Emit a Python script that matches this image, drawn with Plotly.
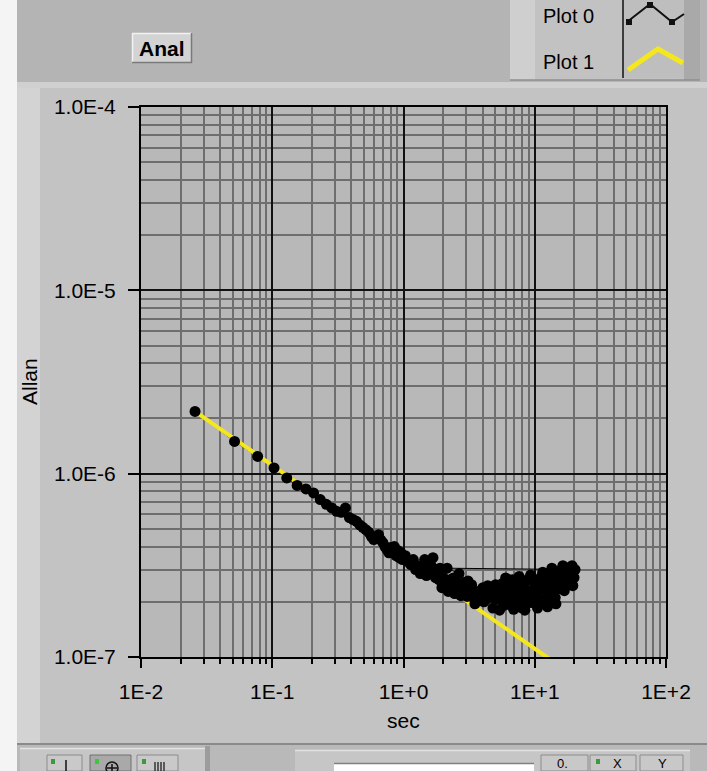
import plotly.graph_objects as go

# ---------------- data ----------------
tau = [0.0258, 0.0516, 0.0774, 0.1032, 0.129, 0.1548, 0.1806, 0.2064, 0.2322, 0.258,
       0.2838, 0.3096, 0.3354, 0.3612, 0.387, 0.4128, 0.4386, 0.4644, 0.4902, 0.516,
       0.5418, 0.5676, 0.5934, 0.6192, 0.645, 0.6708, 0.6966, 0.7224, 0.7482, 0.774,
       0.7998, 0.8256, 0.8514, 0.8772, 0.903, 0.9288, 0.9546, 0.9804, 1.032, 1.084,
       1.135, 1.187, 1.238, 1.29, 1.342, 1.419, 1.496, 1.574, 1.625, 1.677, 1.754, 1.806,
       1.858, 1.961, 2.012, 2.064, 2.193, 2.270, 2.322, 2.451, 2.503, 2.58, 2.735, 2.812,
       2.890, 3.044, 3.225, 3.302, 3.406, 3.612, 3.818, 3.922, 4.025, 4.257, 4.386, 4.515,
       4.644, 4.773, 5.031, 5.16, 5.289, 5.547, 5.676, 5.805, 5.986, 6.140, 6.321, 6.45,
       6.605, 6.760, 6.914, 7.095, 7.276, 7.482, 7.688, 7.869, 8.050, 8.256, 8.462, 8.643,
       8.824, 9.03, 9.236, 9.494, 9.701, 9.933, 10.11, 10.32, 10.71, 10.89, 11.09, 11.35,
       11.61, 11.87, 12.13, 12.38, 12.64, 12.9, 13.16, 13.42, 13.67, 14.06, 14.32, 14.65,
       14.96, 15.27, 15.48, 15.74, 16.0, 16.38, 16.64, 16.98, 17.29, 17.67, 18.06, 18.45,
       18.83, 19.22, 19.61, 19.92, 20.28,
       2.15, 2.65, 3.1, 3.5, 4.1, 4.8, 5.4, 6.0, 6.9, 7.6, 8.4, 9.3, 10.5, 11.5, 12.5,
       13.5, 14.5, 15.6, 16.8, 18.2, 19.5, 1.45, 1.9, 2.4, 2.95]
allan = [2.185e-6, 1.50e-6, 1.242e-6, 1.074e-6, 9.48e-7, 8.63e-7, 8.25e-7, 7.85e-7, 7.22e-7, 6.80e-7,
         6.50e-7, 6.23e-7, 6.15e-7, 6.50e-7, 5.76e-7, 5.62e-7, 5.50e-7, 5.25e-7, 5.10e-7, 4.95e-7,
         4.80e-7, 4.55e-7, 4.37e-7, 4.50e-7, 4.65e-7, 4.35e-7, 4.21e-7, 4.00e-7, 3.85e-7, 3.70e-7,
         3.95e-7, 3.71e-7, 4.00e-7, 3.57e-7, 3.81e-7, 3.48e-7, 3.71e-7, 3.40e-7, 3.57e-7, 3.31e-7,
         3.19e-7, 3.40e-7, 3.00e-7, 3.15e-7, 2.85e-7, 3.07e-7, 2.78e-7, 3.00e-7, 3.15e-7, 3.48e-7, 2.71e-7, 2.92e-7,
         2.64e-7, 2.39e-7, 2.71e-7, 2.55e-7, 2.28e-7, 2.64e-7, 2.48e-7, 2.22e-7, 2.58e-7, 2.39e-7, 2.16e-7, 2.52e-7,
         2.33e-7, 2.14e-7, 2.33e-7, 2.48e-7, 2.11e-7, 2.28e-7, 2.14e-7, 2.06e-7, 2.39e-7, 2.06e-7, 2.45e-7, 2.25e-7,
         2.33e-7, 2.11e-7, 2.48e-7, 2.28e-7, 2.06e-7, 2.28e-7, 2.52e-7, 1.91e-7, 2.11e-7, 2.39e-7, 2.64e-7, 2.11e-7,
         1.91e-7, 2.64e-7, 2.33e-7, 1.96e-7, 2.58e-7, 2.22e-7, 2.06e-7, 1.86e-7, 2.33e-7, 2.45e-7, 1.91e-7, 2.06e-7,
         2.64e-7, 2.28e-7, 2.11e-7, 1.98e-7, 2.33e-7, 2.55e-7, 1.96e-7, 2.16e-7, 2.33e-7, 2.01e-7, 2.71e-7, 2.39e-7,
         2.06e-7, 2.78e-7, 2.48e-7, 2.01e-7, 2.22e-7, 2.52e-7, 2.85e-7, 2.16e-7, 2.39e-7, 2.64e-7, 2.11e-7, 2.33e-7,
         2.71e-7, 2.45e-7, 2.64e-7, 2.39e-7, 3.00e-7, 3.15e-7, 2.71e-7, 2.45e-7, 3.07e-7, 2.78e-7, 2.82e-7, 2.58e-7,
         3.07e-7, 3.15e-7, 2.92e-7, 2.71e-7, 3.00e-7,
         3.05e-7, 2.85e-7, 2.60e-7, 1.95e-7, 2.00e-7, 1.85e-7, 1.80e-7, 2.70e-7, 1.82e-7, 2.75e-7, 1.80e-7, 2.80e-7,
         1.85e-7, 2.90e-7, 1.88e-7, 3.05e-7, 1.95e-7, 2.95e-7, 2.30e-7, 2.95e-7, 2.45e-7, 3.40e-7, 3.05e-7, 2.70e-7, 2.55e-7]
fit_tau = [0.0258, 20.0]
fit_allan = [2.185e-6, 7.85e-8]

x_tickvals = [0.01, 0.1, 1, 10, 100]
x_ticktext = ["1E-2", "1E-1", "1E+0", "1E+1", "1E+2"]
y_tickvals = [1e-7, 1e-6, 1e-5, 1e-4]
y_ticktext = ["1.0E-7", "1.0E-6", "1.0E-5", "1.0E-4"]
minor_mult = [2, 3, 4, 5, 6, 7, 8, 9]
x_decades = [0.01, 0.1, 1, 10]
y_decades = [1e-7, 1e-6, 1e-5]

legend_names = ["Plot 0", "Plot 1"]

# ---------------- layout helpers ----------------
W, H = 707, 771
FONT = "Liberation Sans"


def px(x):
    return x / W


def py(y):
    return 1 - y / H


shapes = []


def rect(x0, y0, x1, y1, fill, line=None, lw=0):
    shapes.append(dict(type="rect", xref="paper", yref="paper", layer="below",
                       x0=px(x0), x1=px(x1), y0=py(y1), y1=py(y0),
                       fillcolor=fill, line=dict(width=lw, color=line or fill)))


def seg(x0, y0, x1, y1, color, w=1, layer="below"):
    shapes.append(dict(type="line", xref="paper", yref="paper", layer=layer,
                       x0=px(x0), x1=px(x1), y0=py(y0), y1=py(y1),
                       line=dict(color=color, width=w)))


def path(pts, color, w, layer="above"):
    d = "M " + " L ".join(f"{px(a):.5f},{py(b):.5f}" for a, b in pts)
    shapes.append(dict(type="path", xref="paper", yref="paper", layer=layer,
                       path=d, line=dict(color=color, width=w)))


def label(text, x, y, size=21, angle=0, bold=False, color="#000000"):
    return dict(text=f"<b>{text}</b>" if bold else text, x=px(x), y=py(y),
                xref="paper", yref="paper", xanchor="center", yanchor="middle",
                textangle=angle, showarrow=False,
                font=dict(family=FONT, size=size, color=color))


# plot area in pixels
PL, PR, PT, PB = 141, 666, 107, 657

# background panels
rect(0, 0, 17, H, "#f4f4f4")
rect(17, 0, W, 82, "#b4b4b4")
rect(17, 82, W, 744, "#c3c3c3")
rect(17, 82, 40, 744, "#d3d3d3")
rect(17, 82, W, 88, "#d0d0d0")
seg(17, 744, W, 744, "#8a8a8a", 2)
# bottom toolbar
rect(17, 745, W, H, "#b9b9b9")
rect(20, 748, 206, H, "#c6c6c6")
seg(20, 748.5, 206, 748.5, "#e4e4e4", 1.5)
rect(205, 746, 210, H, "#9c9c9c")
rect(47, 755, 82, H, "#c9c9c9", "#8c8c8c", 1)
rect(90, 755, 131, H, "#a9a9a9", "#707070", 1)
rect(137, 755, 178, H, "#c9c9c9", "#8c8c8c", 1)
rect(51, 759, 55, 764, "#3c9a3c")
rect(95, 759, 99, 764, "#3cc83c")
rect(142, 759, 146, 764, "#3c9a3c")
rect(295, 750, 690, H, "#c6c6c6")
seg(295, 750.5, 690, 750.5, "#e2e2e2", 1.5)
rect(334, 763, 534, H, "#ffffff")
seg(334, 763.5, 534, 763.5, "#808080", 1.5)
rect(541, 755, 588, H, "#c8c8c8", "#8c8c8c", 1)
rect(590, 755, 636, H, "#c8c8c8", "#8c8c8c", 1)
rect(640, 755, 683, H, "#c8c8c8", "#8c8c8c", 1)
rect(596, 759, 600, 764, "#3c9a3c")

# "Anal" button
rect(132, 33, 192, 63, "#d3d3d3")
seg(132, 33.5, 192, 33.5, "#f2f2f2", 1.5)
seg(132.5, 33, 132.5, 63, "#f2f2f2", 1.5)
seg(132, 62.5, 192, 62.5, "#7a7a7a", 1.5)
seg(191.5, 33, 191.5, 63, "#7a7a7a", 1.5)

# legend box
rect(510, 0, 700, 80, "#c2c2c2")
rect(510, 0, 535, 80, "#cfcfcf")
rect(623, 0, 684, 78, "#bebebe")
rect(684, 0, 700, 80, "#a9a9a9")
seg(510, 80, 700, 80, "#8f8f8f", 1.5)
seg(623, 0, 623, 78, "#111111", 1.5)

# plot background
rect(PL, PT, PR, PB, "#b8b8b8")

# legend symbols
path([(627, 22), (650, 4), (672, 22), (684, 14)], "#111111", 2)
for cx, cy in [(629, 22), (650, 5), (672, 22)]:
    shapes.append(dict(type="rect", xref="paper", yref="paper", layer="above",
                       x0=px(cx - 3), x1=px(cx + 3), y0=py(cy + 3), y1=py(cy - 3),
                       fillcolor="#111111", line=dict(width=0)))
path([(628, 70), (658, 49), (683, 63)], "#f5e71e", 5)

# toolbar glyph fragments (cut off by the window bottom)
path([(66, 760), (66, 771)], "#111111", 1.5)
path([(112, 764), (112, 771)], "#111111", 1.5)
path([(107, 768), (117, 768)], "#111111", 1.5)
shapes.append(dict(type="circle", xref="paper", yref="paper", layer="above",
                   x0=px(106), x1=px(118), y0=py(774), y1=py(762),
                   line=dict(color="#111111", width=1.5)))
for xx in [155, 158, 161, 164]:
    path([(xx, 762), (xx, 771)], "#111111", 1.2)

annotations = [
    label("Anal", 162, 48, 21, bold=True),
    label(legend_names[0], 568, 16, 20),
    label(legend_names[1], 568, 62, 20),
    label("Allan", 29, 382, 21, angle=-90),
    label("sec", 403, 720, 21),
    label("0.", 562, 763, 13),
    label("X", 617, 763, 13),
    label("Y", 662, 763, 13),
]

x_minor = [m * d for d in x_decades for m in minor_mult]
y_minor = [m * d for d in y_decades for m in minor_mult]

fig = go.Figure()
# connecting line of Plot 0 (under the fit line)
n_line = 146
fig.add_trace(go.Scatter(x=tau[:n_line], y=allan[:n_line], mode="lines",
                         line=dict(color="#000000", width=1),
                         showlegend=False, hoverinfo="skip"))
# Plot 1 : fit line
fig.add_trace(go.Scatter(x=fit_tau, y=fit_allan, mode="lines", name=legend_names[1],
                         line=dict(color="#f5e71e", width=4), showlegend=False))
# Plot 0 : points
fig.add_trace(go.Scatter(x=tau, y=allan, mode="markers", name=legend_names[0],
                         marker=dict(color="#000000", size=11, line=dict(width=0)),
                         showlegend=False, cliponaxis=True))

fig.update_layout(
    width=W, height=H,
    margin=dict(l=0, r=0, t=0, b=0, pad=0, autoexpand=False),
    paper_bgcolor="#c3c3c3",
    plot_bgcolor="#b8b8b8",
    shapes=shapes,
    annotations=annotations,
    showlegend=False,
    font=dict(family=FONT, size=21, color="#000000"),
    xaxis=dict(
        type="log", range=[-2, 2], domain=[px(PL), px(PR)], automargin=False,
        tickmode="array", tickvals=x_tickvals, ticktext=x_ticktext,
        ticks="outside", ticklen=9, tickwidth=1.5, tickcolor="#000000",
        ticklabelstandoff=6,
        showgrid=True, gridcolor="#111111", gridwidth=1.5,
        showline=True, linecolor="#000000", linewidth=2, mirror=True,
        zeroline=False, tickfont=dict(family=FONT, size=21, color="#000000"),
        minor=dict(tickvals=x_minor, ticks="outside", ticklen=5, tickwidth=1.5,
                   tickcolor="#000000", showgrid=True, gridcolor="#6e6e6e", gridwidth=1.5),
    ),
    yaxis=dict(
        type="log", range=[-7, -4], domain=[py(PB), py(PT)], automargin=False,
        tickmode="array", tickvals=y_tickvals, ticktext=y_ticktext,
        ticks="outside", ticklen=11, tickwidth=1.5, tickcolor="#000000",
        ticklabelstandoff=8,
        showgrid=True, gridcolor="#111111", gridwidth=1.5,
        showline=True, linecolor="#000000", linewidth=2, mirror=True,
        zeroline=False, tickfont=dict(family=FONT, size=21, color="#000000"),
        minor=dict(tickvals=y_minor, ticks="", showgrid=True,
                   gridcolor="#6e6e6e", gridwidth=1.5),
    ),
)

fig.write_html("out.html")
